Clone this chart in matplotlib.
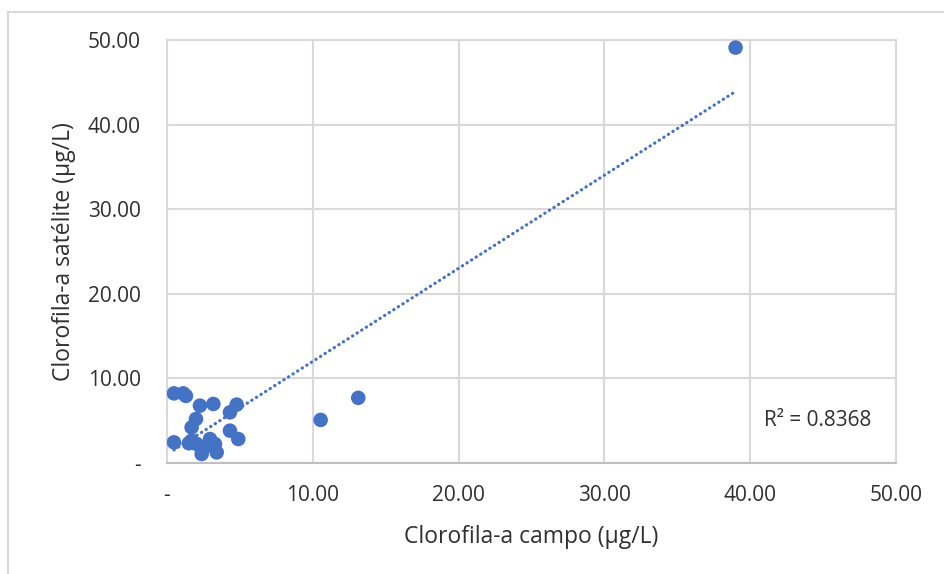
import numpy as np
import matplotlib.pyplot as plt
from matplotlib.lines import Line2D
from matplotlib.ticker import FuncFormatter

plt.rcParams['font.family'] = ['Open Sans', 'DejaVu Sans']

# clorofila-a: campo vs satelite (ug/L)
campo = [0.48, 1.12, 1.30, 2.26, 3.18, 4.78, 4.32, 1.99, 1.69, 4.32, 4.89, 0.48,
         1.69, 2.04, 2.95, 3.29, 2.38, 3.41, 2.72, 1.50, 10.54, 13.12, 39.0]
satelite = [8.2, 8.2, 7.9, 6.75, 6.95, 6.87, 5.96, 5.17, 4.18, 3.79, 2.8, 2.41,
            2.6, 2.21, 2.8, 2.21, 1.03, 1.22, 2.0, 2.3, 5.06, 7.67, 49.1]
r2_txt = 'R² = 0.8368'

azul = '#4472C4'
gris = '#D9D9D9'
texto = '#303030'

fig = plt.figure(figsize=(9.45, 5.74), dpi=100)
ax = fig.add_axes([0.1767, 0.1939, 0.7714, 0.7364])

# linea de tendencia lineal
k, n = np.polyfit(campo, satelite, 1)
xt = np.array([min(campo), max(campo)])
ax.plot(xt, k * xt + n, color=azul, lw=2.3, linestyle=(0, (0.1, 1.6)),
        dash_capstyle='round', zorder=2)

ax.scatter(campo, satelite, s=110, color=azul, edgecolor='none', zorder=3)

ax.set_xlim(0, 50)
ax.set_ylim(0, 50)
ax.set_xticks(np.arange(0, 51, 10))
ax.set_yticks(np.arange(0, 51, 10))
fmt = FuncFormatter(lambda v, p: '-' if v == 0 else '%.2f' % v)
ax.xaxis.set_major_formatter(fmt)
ax.yaxis.set_major_formatter(fmt)
ax.tick_params(length=0, labelsize=15, colors=texto, pad=16)
ax.tick_params(axis='y', pad=19)
ax.grid(True, color=gris, lw=1.5, zorder=0)
ax.set_axisbelow(True)
for s in ax.spines.values():
    s.set_color(gris)
    s.set_linewidth(1.5)
ax.spines['bottom'].set_color('#BFBFBF')

ax.set_xlabel('Clorofila-a campo (µg/L)', fontsize=16.5, color=texto, labelpad=14)
ax.set_ylabel('Clorofila-a satélite (µg/L)', fontsize=16.5, color=texto, labelpad=8)

ax.text(0.893, 0.1, r2_txt, transform=ax.transAxes, fontsize=15, color=texto,
        ha='center', va='center')

# borde del grafico
fig.add_artist(Line2D([8 / 945, 1], [1 - 12 / 574] * 2, color=gris, lw=1.5))
fig.add_artist(Line2D([8 / 945] * 2, [0, 1 - 12 / 574], color=gris, lw=1.5))

fig.savefig('out.png', dpi=100)
